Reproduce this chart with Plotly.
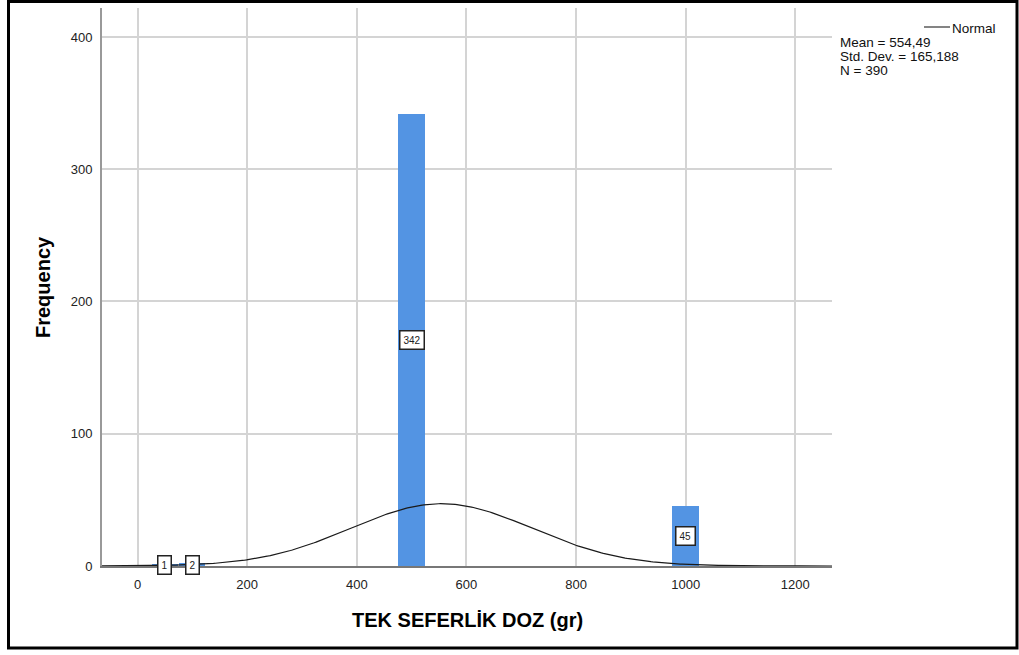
import numpy as np
import plotly.graph_objects as go

# Histogram of single-serving dose (gr)
bin_centers = [50, 100, 500, 1000]
frequencies = [1, 2, 342, 45]
bin_width = 50

mean_val = 554.49
std_dev = 165.188
n_total = 390

x_ticks = [0, 200, 400, 600, 800, 1000, 1200]
y_ticks = [0, 100, 200, 300, 400]

W, H = 1019, 655
L, R, T, B = 102, 187, 8, 89
x_range = [-64.8, 1267]
y_range = [0, 421.9]

FONT = "Liberation Sans, Arial"

# Fitted normal curve, scaled to counts per bin
xs = np.linspace(x_range[0], x_range[1], 400)
ys = n_total * bin_width * np.exp(-0.5 * ((xs - mean_val) / std_dev) ** 2) / (std_dev * np.sqrt(2 * np.pi))

fig = go.Figure()
fig.add_trace(go.Bar(
    x=bin_centers, y=frequencies, width=[bin_width * 0.96] * len(bin_centers),
    marker=dict(color="#5394E3", line=dict(width=0)), showlegend=False, hoverinfo="x+y",
))
fig.add_trace(go.Scatter(
    x=xs, y=ys, mode="lines", line=dict(color="#1a1a1a", width=1.2),
    showlegend=False, hoverinfo="skip",
))

# Count labels centred in each bar
for xc, f in zip(bin_centers, frequencies):
    fig.add_annotation(
        x=xc, y=f / 2, text=str(f), showarrow=False,
        font=dict(family=FONT, size=10, color="#222"),
        bgcolor="white", bordercolor="#222", borderwidth=1.5, borderpad=3,
    )

pw = W - L - R
ph = H - T - B
def px_x(p):
    return (p - L) / pw
def px_y(p):
    return 1 - (p - T) / ph

# Legend: line sample + "Normal", followed by the fit statistics
fig.add_shape(type="line", xref="paper", yref="paper",
              x0=px_x(924), x1=px_x(950), y0=px_y(27), y1=px_y(27),
              line=dict(color="#333", width=1.2))
fig.add_annotation(xref="paper", yref="paper", x=px_x(950), y=px_y(28),
                   text="Normal", showarrow=False, xanchor="left", yanchor="middle",
                   font=dict(family=FONT, size=13.5, color="#111"))
stats = ["Mean = 554,49", "Std. Dev. = 165,188", f"N = {n_total}"]
for i, s in enumerate(stats):
    fig.add_annotation(xref="paper", yref="paper", x=px_x(838), y=px_y(42 + 14 * i),
                       text=s, showarrow=False, xanchor="left", yanchor="middle",
                       font=dict(family=FONT, size=13.5, color="#111"))

# Axis titles
fig.add_annotation(xref="paper", yref="paper", x=px_x(43), y=px_y(287),
                   text="<b>Frequency</b>", showarrow=False, textangle=-90,
                   xanchor="center", yanchor="middle",
                   font=dict(family=FONT, size=20, color="#000"))
fig.add_annotation(xref="paper", yref="paper", x=px_x(467), y=px_y(620),
                   text="<b>TEK SEFERLİK DOZ (gr)</b>", showarrow=False,
                   xanchor="center", yanchor="middle",
                   font=dict(family=FONT, size=20, color="#000"))

# Outer frame
fig.add_shape(type="rect", xref="paper", yref="paper",
              x0=px_x(8.5), x1=px_x(1017), y0=px_y(1.5), y1=px_y(648),
              line=dict(color="black", width=3), fillcolor="rgba(0,0,0,0)", layer="above")

fig.update_layout(
    width=W, height=H,
    margin=dict(l=L, r=R, t=T, b=B, pad=0),
    paper_bgcolor="white", plot_bgcolor="white",
    bargap=0,
    font=dict(family=FONT, size=13, color="#222"),
)
fig.update_xaxes(
    range=x_range, tickvals=x_ticks, ticktext=[str(v) for v in x_ticks],
    showgrid=True, gridcolor="#d4d4d4", gridwidth=1.5,
    showline=True, linecolor="#777", linewidth=2, zeroline=False,
    ticks="", ticklabelstandoff=5, tickfont=dict(family=FONT, size=13, color="#222"),
)
fig.update_yaxes(
    range=y_range, tickvals=y_ticks, ticktext=[str(v) for v in y_ticks],
    showgrid=True, gridcolor="#d4d4d4", gridwidth=1.5,
    showline=True, linecolor="#999", linewidth=2, zeroline=False,
    ticks="", ticklabelstandoff=5, tickfont=dict(family=FONT, size=13, color="#222"),
)

fig.write_html("out.html")
